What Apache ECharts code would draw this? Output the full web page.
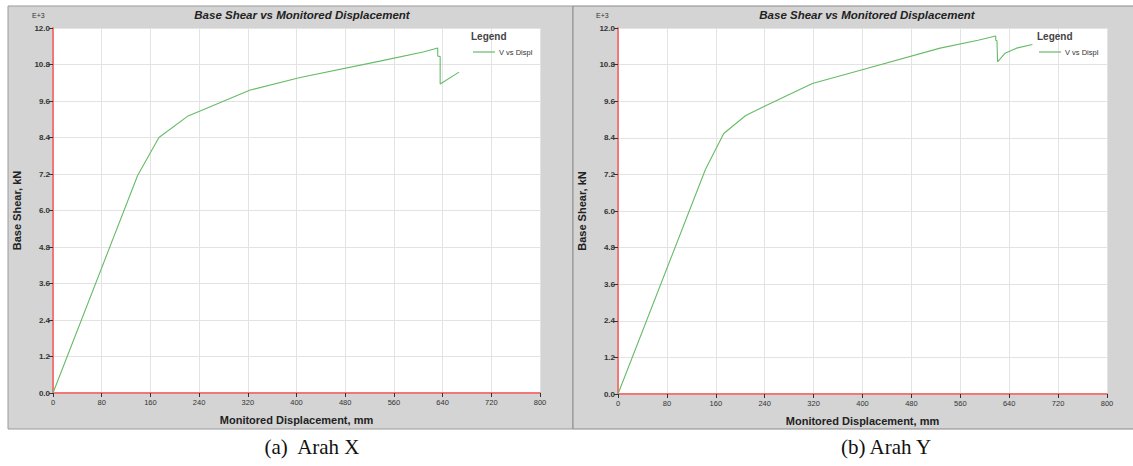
<!DOCTYPE html>
<html>
<head>
<meta charset="utf-8">
<script src="https://cdn.jsdelivr.net/npm/echarts@6/dist/echarts.min.js"></script>
<style>
html,body{margin:0;padding:0;background:#fff;}
#chart{width:1133px;height:466px;}
</style>
</head>
<body>
<div id="chart"></div>
<script>
// Data (displacement in mm, base shear in kN x 1000)
const leftDisp  = [0, 139, 174, 222, 324, 406, 537, 608, 632, 632, 636, 636, 667];
const leftShear = [0, 7.15, 8.40, 9.11, 9.96, 10.37, 10.91, 11.21, 11.34, 11.08, 11.06, 10.16, 10.55];
const rightDisp  = [0, 143, 173, 209, 238, 318, 401, 527, 589, 618, 618, 620, 621, 633, 652, 678];
const rightShear = [0, 7.36, 8.54, 9.13, 9.42, 10.18, 10.64, 11.34, 11.60, 11.74, 11.60, 11.58, 10.89, 11.17, 11.34, 11.46];
const xMin = 0, xMax = 800, xInterval = 80;
const yMin = 0, yMax = 12, yInterval = 1.2;
const chartTitle = 'Base Shear vs Monitored Displacement';
const xName = 'Monitored Displacement, mm';
const yName = 'Base Shear, kN';
const seriesName = 'V vs Displ';
const captions = ['(a)\u00a0 Arah X', '(b) Arah Y'];

const toPairs = (xs, ys) => xs.map((x, i) => [x, ys[i]]);
const green = '#66bb66';
const red = '#f27878';

const grids = [
  {left: 53, top: 28, width: 487, height: 365},
  {left: 618, top: 28, width: 489, height: 366}
];

function xAxis(i) {
  return {
    type: 'value', gridIndex: i, min: xMin, max: xMax, interval: xInterval,
    axisLine: {show: true, onZero: false, lineStyle: {color: red, width: 2}},
    axisTick: {show: true, length: 4, lineStyle: {color: '#333'}},
    axisLabel: {color: '#333', fontSize: 7.5, fontFamily: 'Liberation Sans', margin: 5},
    splitLine: {show: true, lineStyle: {color: '#e3e3e3', width: 1}},
    name: xName, nameLocation: 'middle', nameGap: 21,
    nameTextStyle: {color: '#222', fontSize: 11, fontWeight: 'bold', fontFamily: 'Liberation Sans'}
  };
}
function yAxis(i) {
  return {
    type: 'value', gridIndex: i, min: yMin, max: yMax, interval: yInterval,
    axisLine: {show: true, onZero: false, lineStyle: {color: red, width: 2}},
    axisTick: {show: true, length: 4, lineStyle: {color: '#333'}},
    axisLabel: {color: '#333', fontSize: 8, fontWeight: 'bold', fontFamily: 'Liberation Sans', margin: 3,
      formatter: v => v.toFixed(1)},
    splitLine: {show: true, lineStyle: {color: '#e3e3e3', width: 1}},
    name: yName, nameLocation: 'middle', nameGap: 31,
    nameTextStyle: {color: '#222', fontSize: 11, fontWeight: 'bold', fontFamily: 'Liberation Sans'}
  };
}

function legendGraphics(x) {
  return [
    {type: 'text', left: x, top: 31, z: 10,
      style: {text: 'Legend', font: 'bold 10px "Liberation Sans"', fill: '#444'}},
    {type: 'line', z: 10, shape: {x1: x + 2, y1: 52, x2: x + 24, y2: 52},
      style: {stroke: green, lineWidth: 1.2}},
    {type: 'text', left: x + 28, top: 48, z: 10,
      style: {text: seriesName, font: '7.5px "Liberation Sans"', fill: '#333'}}
  ];
}

const titleStyle = {fontSize: 11.5, fontWeight: 'bold', fontStyle: 'italic', color: '#222', fontFamily: 'Liberation Sans'};

const chart = echarts.init(document.getElementById('chart'), null, {renderer: 'svg'});
chart.setOption({
  animation: false,
  backgroundColor: '#fff',
  grid: grids.map(g => Object.assign({show: true, backgroundColor: '#fff', borderWidth: 0}, g)),
  xAxis: [xAxis(0), xAxis(1)],
  yAxis: [yAxis(0), yAxis(1)],
  title: [
    {text: chartTitle, left: 297, top: 4, textAlign: 'center', textStyle: titleStyle},
    {text: chartTitle, left: 862, top: 4, textAlign: 'center', textStyle: titleStyle}
  ],
  series: [
    {type: 'line', name: seriesName, xAxisIndex: 0, yAxisIndex: 0, data: toPairs(leftDisp, leftShear),
      showSymbol: false, lineStyle: {color: green, width: 1.1}, itemStyle: {color: green}},
    {type: 'line', name: seriesName, xAxisIndex: 1, yAxisIndex: 1, data: toPairs(rightDisp, rightShear),
      showSymbol: false, lineStyle: {color: green, width: 1.1}, itemStyle: {color: green}}
  ],
  graphic: [
    {type: 'rect', z: -10, shape: {x: 8, y: 6, width: 565, height: 423},
      style: {fill: '#d4d4d4', stroke: '#9a9a9a', lineWidth: 1}},
    {type: 'rect', z: -10, shape: {x: 573, y: 6, width: 570, height: 423},
      style: {fill: '#d4d4d4', stroke: '#8a8a8a', lineWidth: 1}},
    {type: 'text', left: 32, top: 12, z: 10, style: {text: 'E+3', font: '7px "Liberation Sans"', fill: '#333'}},
    {type: 'text', left: 596, top: 12, z: 10, style: {text: 'E+3', font: '7px "Liberation Sans"', fill: '#333'}},
    ...legendGraphics(471),
    ...legendGraphics(1037),
    {type: 'text', x: 312, y: 447, z: 10,
      style: {text: captions[0], font: '21px "Liberation Serif"', fill: '#111', align: 'center', verticalAlign: 'middle'}},
    {type: 'text', x: 886, y: 447, z: 10,
      style: {text: captions[1], font: '21px "Liberation Serif"', fill: '#111', align: 'center', verticalAlign: 'middle'}}
  ]
});
</script>
</body>
</html>
